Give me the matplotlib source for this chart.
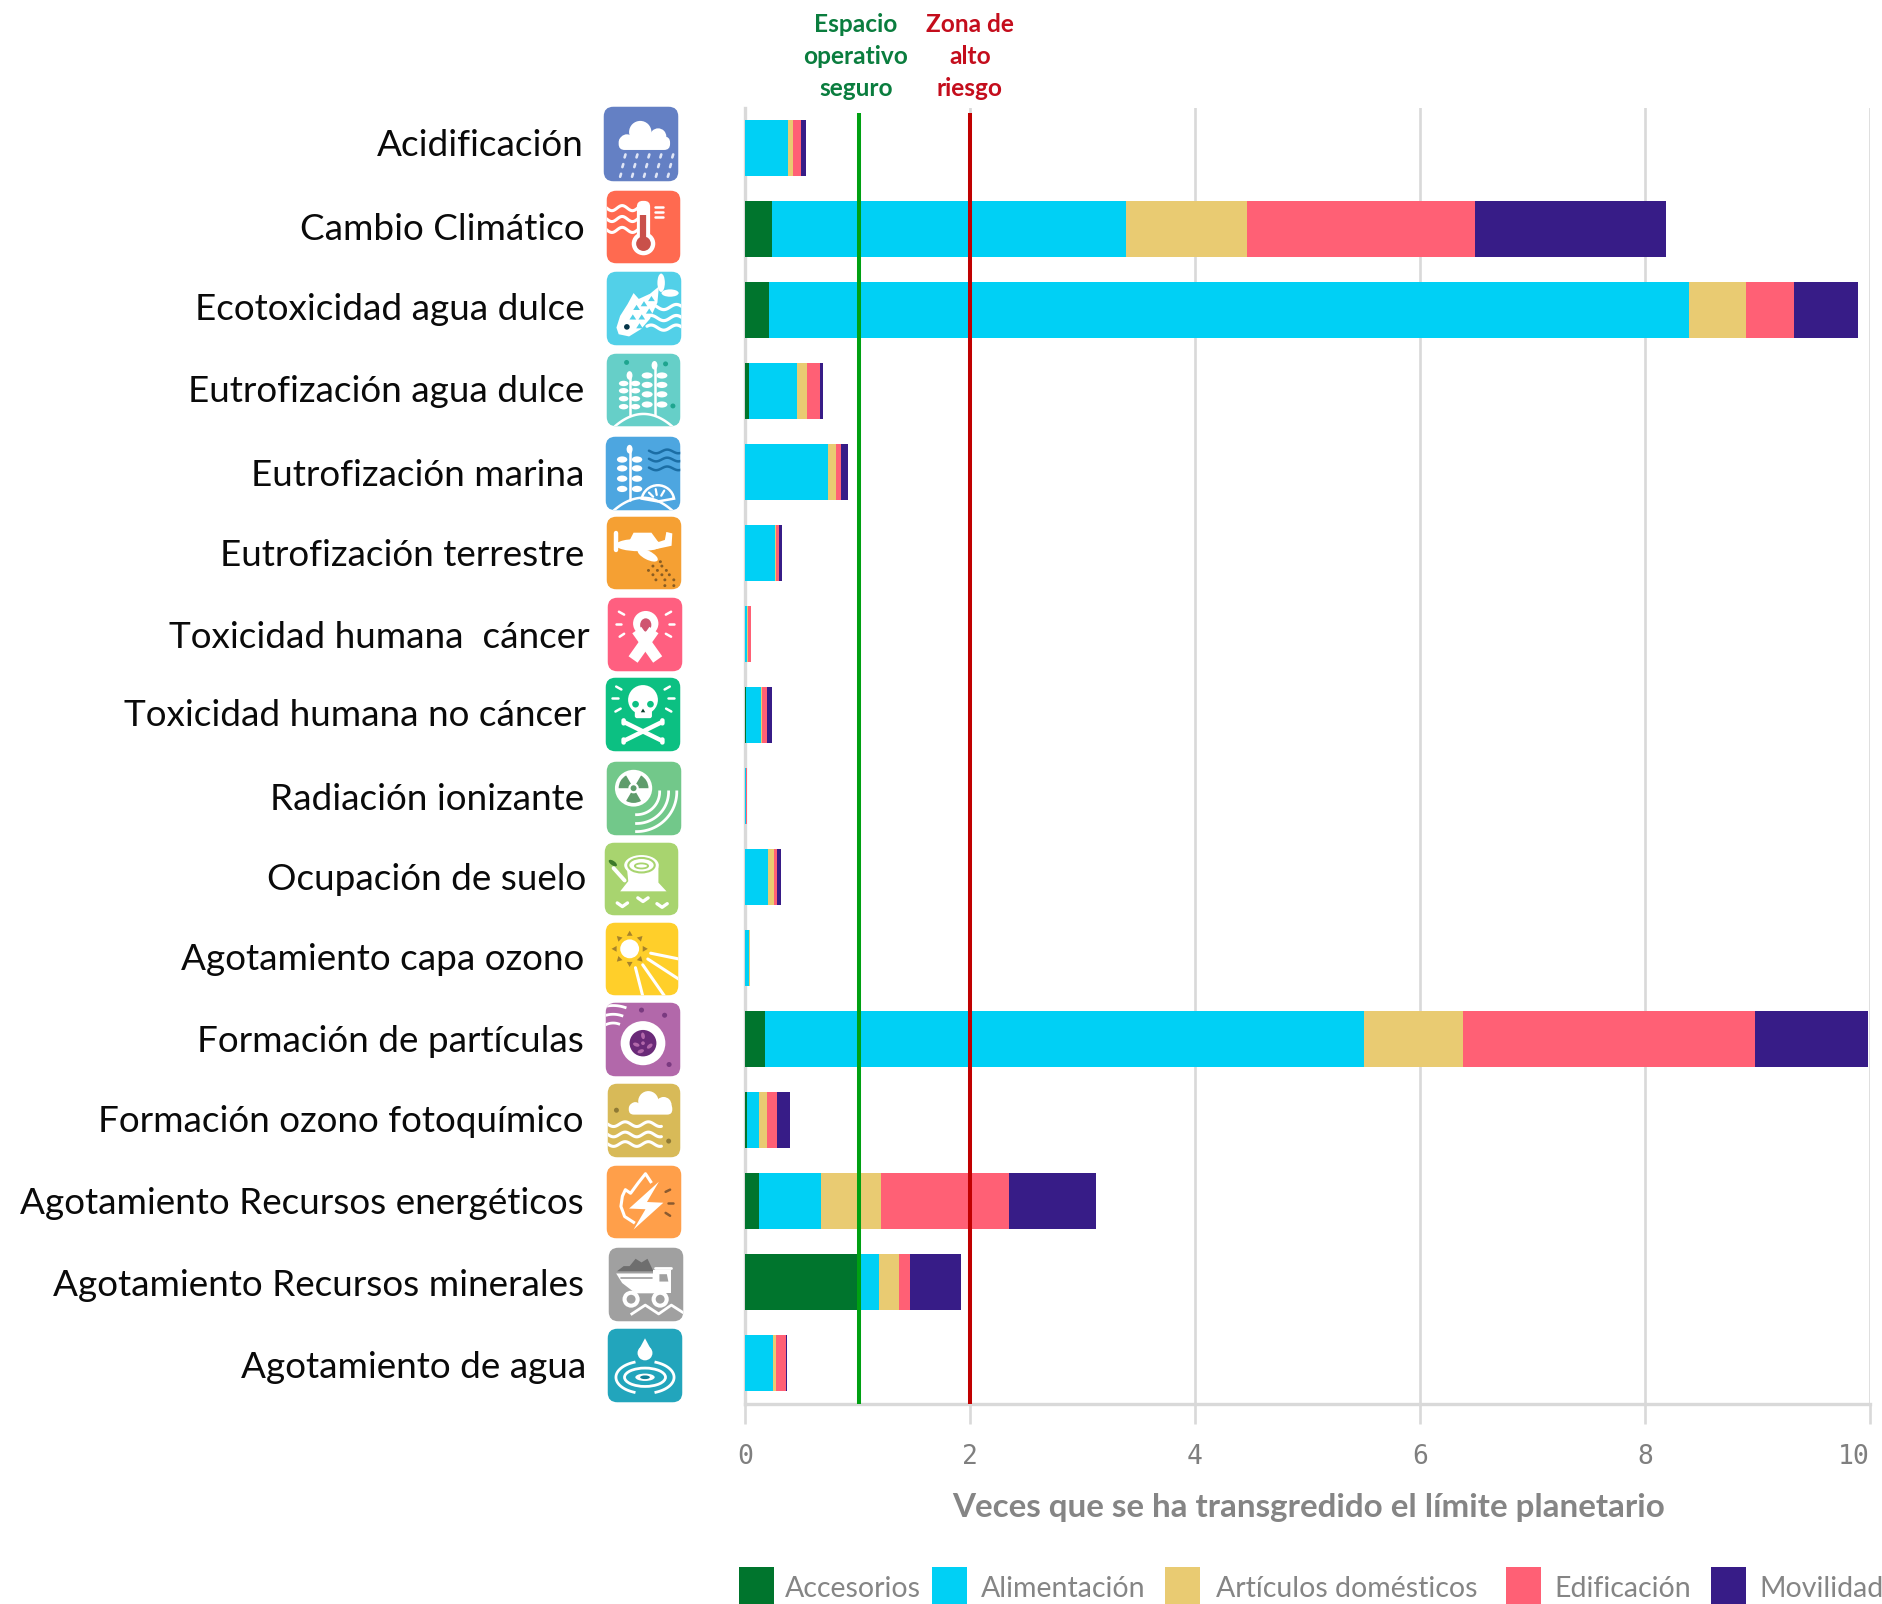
import numpy as np
import matplotlib
matplotlib.use("Agg")
import matplotlib.pyplot as plt
from matplotlib.patches import Rectangle, FancyBboxPatch, Circle, Ellipse, Polygon, Wedge

categories = ["Acidificación", "Cambio Climático", "Ecotoxicidad agua dulce", "Eutrofización agua dulce",
              "Eutrofización marina", "Eutrofización terrestre", "Toxicidad humana  cáncer",
              "Toxicidad humana no cáncer", "Radiación ionizante", "Ocupación de suelo",
              "Agotamiento capa ozono", "Formación de partículas", "Formación ozono fotoquímico",
              "Agotamiento Recursos energéticos", "Agotamiento Recursos minerales", "Agotamiento de agua"]
accesorios =   [0.002, 0.243, 0.210, 0.035, 0.002, 0.002, 0.002, 0.012, 0.002, 0.002, 0.002, 0.178, 0.020, 0.122, 1.010, 0.002]
alimentacion = [0.378, 3.147, 8.180, 0.425, 0.733, 0.263, 0.020, 0.133, 0.004, 0.203, 0.038, 5.322, 0.105, 0.552, 0.180, 0.244]
articulos =    [0.050, 1.075, 0.510, 0.090, 0.075, 0.015, 0.005, 0.010, 0.003, 0.053, 0.001, 0.880, 0.068, 0.534, 0.175, 0.033]
edificacion =  [0.065, 2.025, 0.420, 0.115, 0.040, 0.020, 0.022, 0.045, 0.005, 0.030, 0.002, 2.600, 0.092, 1.136, 0.098, 0.089]
movilidad =    [0.045, 1.700, 0.570, 0.030, 0.065, 0.030, 0.008, 0.037, 0.004, 0.030, 0.002, 1.000, 0.115, 0.776, 0.457, 0.006]
series_names = ["Accesorios", "Alimentación", "Artículos domésticos", "Edificación", "Movilidad"]
series_values = [accesorios, alimentacion, articulos, edificacion, movilidad]
series_colors = ["#00752d", "#00d0f5", "#e9cb72", "#ff6075", "#371c87"]
x_ticks = [0, 2, 4, 6, 8, 10]
limit_safe = 1.01
limit_high = 2.0

# ---------- layout ----------
W, H = 1883, 1604
plt.rcParams["font.family"] = ["Lato", "DejaVu Sans"]
fig = plt.figure(figsize=(W / 100, H / 100), dpi=100, facecolor="white")
def px_rect(x0, y0, x1, y1):
    return [x0 / W, 1 - y1 / H, (x1 - x0) / W, (y1 - y0) / H]

GRID = "#d9d9d9"
ax = fig.add_axes(px_rect(745, 107.5, 1870, 1403.5))
y = np.arange(len(categories))
left = np.zeros(len(categories))
for vals, name, col in zip(series_values, series_names, series_colors):
    ax.barh(y, vals, left=left, height=0.70, color=col, label=name, zorder=3, linewidth=0)
    left += np.array(vals)
ax.set_xlim(0, 10)
ax.set_ylim(len(categories) - 0.5, -0.5)
ax.set_yticks([])
ax.set_xticks(x_ticks)
ax.set_xticklabels([str(t) for t in x_ticks], family="DejaVu Sans Mono", fontsize=19, color="#7f7f7f")
ax.get_xticklabels()[-1].set_ha("right")
ax.tick_params(axis="x", length=14.5, width=1.9, color=GRID, pad=15)
ax.grid(axis="x", color=GRID, linewidth=1.9, zorder=0)
ax.set_axisbelow(True)
for s in ["top", "right"]:
    ax.spines[s].set_visible(False)
for s in ["left", "bottom"]:
    ax.spines[s].set_color(GRID)
    ax.spines[s].set_linewidth(2.4)
    ax.spines[s].set_zorder(1)
ax.vlines(limit_safe, -0.43, len(categories) - 0.5, color="#00a012", linewidth=2.9, zorder=4)
ax.vlines(limit_high, -0.43, len(categories) - 0.5, color="#c00000", linewidth=2.9, zorder=4)

ov = fig.add_axes([0, 0, 1, 1], zorder=5)
ov.set_xlim(0, W); ov.set_ylim(H, 0); ov.axis("off"); ov.patch.set_alpha(0)

# category labels
label_right = [584, 585, 585, 584, 584, 584, 590, 586, 584, 586, 584, 584, 584, 584, 584, 586]
label_y = [146, 229, 310, 392, 476, 555, 637, 716, 800, 880, 960, 1041, 1122, 1204, 1286, 1367]
for t, xr, yc in zip(categories, label_right, label_y):
    ov.text(xr, yc, t, ha="right", va="center", fontsize=26.6, color="#0a0a0a")

# header text
for cx, lines, col in [(856, ["Espacio", "operativo", "seguro"], "#0a7d3e"), (970, ["Zona de", "alto", "riesgo"], "#c40d1c")]:
    for yy, ln in zip([25, 57, 89], lines):
        ov.text(cx, yy, ln, ha="center", va="center", fontsize=17.6, fontweight="bold", color=col)

ov.text(1309, 1507, "Veces que se ha transgredido el límite planetario", ha="center", va="center",
        fontsize=23.9, fontweight="bold", color="#858585")

# legend
leg_sw = [739, 932, 1165, 1506, 1711]
leg_tx = [785, 981, 1216, 1554, 1759]
for sx, tx, name, col in zip(leg_sw, leg_tx, series_names, series_colors):
    ov.add_patch(Rectangle((sx, 1567), 35, 40, color=col, linewidth=0))
    ov.text(tx, 1589, name, ha="left", va="center", fontsize=20.5, color="#858585", clip_on=True)

# ---------- icons (decorative pictograms) ----------
W_ = "white"
def icon(x0, y0, x1, y1, color):
    a = fig.add_axes(px_rect(x0, y0, x1, y1), zorder=6)
    a.set_xlim(-1, 101); a.set_ylim(101, -1); a.axis("off")
    bg = FancyBboxPatch((0, 0), 100, 100, boxstyle="round,pad=0,rounding_size=13", fc=color, ec="none")
    a.add_patch(bg)
    a._bg = bg
    return a
def circ(a, x, y, r, c=W_, **k): a.add_patch(Circle((x, y), r, fc=c, ec="none", **k))
def ell(a, x, y, w, h, c=W_, ang=0): a.add_patch(Ellipse((x, y), w, h, angle=ang, fc=c, ec="none"))
def ring(a, x, y, w, h, c=W_, lw=1.5, ang=0): a.add_patch(Ellipse((x, y), w, h, angle=ang, fc="none", ec=c, lw=lw))
def line(a, xs, ys, c=W_, lw=2.0, cap="round"): a.plot(xs, ys, color=c, lw=lw, solid_capstyle=cap)
def poly(a, pts, c=W_): a.add_patch(Polygon(pts, closed=True, fc=c, ec="none"))
def wave(a, x0, x1, yc, c=W_, amp=3.2, per=26, lw=2.0):
    xx = np.linspace(x0, x1, 80)
    a.plot(xx, yc + amp * np.sin(2 * np.pi * xx / per), color=c, lw=lw, solid_capstyle="round")
def rrect(a, x0, y0, x1, y1, r, c=W_):
    a.add_patch(FancyBboxPatch((x0, y0), x1 - x0, y1 - y0, boxstyle=f"round,pad=0,rounding_size={r}", fc=c, ec="none"))
def plant(a, x, ytop, ybot, rows, dx, w, h):
    line(a, [x, x], [ytop, ybot], lw=1.8)
    ell(a, x, ytop, 8, 12)
    for r in rows:
        ell(a, x - dx, r, w, h); ell(a, x + dx, r, w, h)
def hill(a, c=W_):
    xx = np.linspace(10, 90, 60)
    a.plot(xx, 101 - 18 * (1 - ((xx - 50) / 40) ** 2), color=c, lw=1.8)
def finish(a):
    for art in list(a.patches) + list(a.lines):
        if art is not a._bg:
            art.set_clip_path(a._bg)

# 1 acidificacion
a = icon(603, 106, 679, 182, "#6480c4")
rrect(a, 20, 40, 89, 58, 8); circ(a, 49, 34, 15); circ(a, 73, 40, 11); circ(a, 31, 47, 10)
for row, yy in enumerate([66, 79, 92]):
    for i in range(5):
        xs = 28 + i * 16 - row * 3
        line(a, [xs, xs + 1.2], [yy + 2, yy - 2], c="#dfe5f5", lw=1.9)
finish(a)
# 2 cambio climatico
a = icon(606, 190, 681, 264, "#ff6a50")
for yy in [24, 39, 54]:
    wave(a, -2, 44, yy, per=28, amp=3.5, lw=2.2)
rrect(a, 41, 14, 59, 68, 8); circ(a, 50, 73, 16)
line(a, [50, 50], [33, 70], c="#c9504a", lw=4.5, cap="butt"); circ(a, 50, 73, 10, c="#c9504a")
for yy in [22, 29, 36]:
    line(a, [66, 77], [yy, yy], lw=1.8)
finish(a)
# 3 ecotoxicidad
a = icon(606, 271, 682, 346, "#52d0e8")
for yy, x0 in [(48, 62), (63, 60), (76, 54)]:
    wave(a, x0, 102, yy, per=34, amp=3.5, lw=2.3)
poly(a, [(13, 76), (18, 60), (28, 44), (36, 29), (43, 37), (58, 30), (70, 20), (68, 42), (58, 64), (46, 78), (30, 88), (16, 85)])
ell(a, 73, 15, 10, 25); ell(a, 85, 29, 23, 10)
circ(a, 27, 75, 3.8, c="#06364a")
for tx, ty in [(40, 45), (50, 40), (60, 33), (35, 58), (47, 58), (57, 50), (44, 70)]:
    poly(a, [(tx, ty), (tx - 4.5, ty + 7), (tx + 4.5, ty + 7)], c="#52d0e8")
finish(a)
# 4 eutro agua dulce
a = icon(606, 353, 681, 427, "#66cfc8")
hill(a); plant(a, 31, 30, 84, [41, 51, 62, 73], 8, 13, 7.5); plant(a, 65, 16, 84, [30, 43, 56, 70], 10, 15, 8.5)
for p in [(27, 12), (80, 14), (90, 72)]:
    circ(a, *p, 3.4, c="#1ea58f")
finish(a)
# 5 eutro marina
a = icon(605, 436, 681, 511, "#4da6e0")
hill(a); plant(a, 32, 17, 86, [31, 43, 57, 71], 10, 14, 8.5)
for yy in [20, 31, 43]:
    wave(a, 58, 101, yy, c="#1b6ea5", per=30, amp=2.5, lw=1.8)
a.add_patch(Wedge((70, 88), 22, 190, 350, fc="#4da6e0", ec=W_, lw=1.8))
for ang in [225, 260, 300]:
    line(a, [70 + 9 * np.cos(np.radians(ang)), 70 + 17 * np.cos(np.radians(ang))],
         [88 + 9 * np.sin(np.radians(ang)), 88 + 17 * np.sin(np.radians(ang))], lw=1.6)
finish(a)
# 6 eutro terrestre
a = icon(606, 516, 682, 590, "#f5a033")
line(a, [12, 12], [22, 46], lw=3.2)
ell(a, 43, 39, 62, 17)
poly(a, [(30, 34), (36, 22), (60, 22), (70, 36)])
poly(a, [(60, 38), (78, 32), (80, 21), (88, 23), (87, 40), (60, 46)])
ell(a, 55, 53, 30, 12, ang=28)
for yy, xs in [(62, [72]), (68, [62, 74]), (74, [56, 68, 80]), (80, [62, 74, 84]), (87, [66, 78, 90]), (95, [78, 90])]:
    for xx in xs:
        circ(a, xx, yy, 2.0, c="#8a5d22")
finish(a)
# 7 toxicidad cancer
a = icon(607, 597, 683, 672, "#ff5f80")
line(a, [62, 34], [44, 84], lw=8, cap="butt"); line(a, [39, 67], [44, 84], lw=8, cap="butt")
circ(a, 51, 35, 17); ell(a, 51, 37, 15, 18, c="#cf5570")
for p, q in [((15, 19), (22, 23)), ((11, 36), (18, 36)), ((16, 53), (22, 49)), ((85, 19), (78, 23)), ((89, 36), (82, 36)), ((85, 53), (78, 49))]:
    line(a, [p[0], q[0]], [p[1], q[1]], lw=1.8)
finish(a)
# 8 toxicidad no cancer
a = icon(605, 677, 681, 752, "#0cc082")
circ(a, 50, 30, 20); rrect(a, 39, 36, 62, 55, 3)
circ(a, 40, 36, 4.5, c="#0cc082"); circ(a, 60, 36, 4.5, c="#0cc082")
poly(a, [(50, 42), (47, 47), (53, 47)], c="#0a3d2a")
for p, q in [((24, 60), (76, 86)), ((76, 60), (24, 86))]:
    line(a, [p[0], q[0]], [p[1], q[1]], lw=3.2)
    for e in (p, q):
        circ(a, e[0], e[1] - 2, 3.0); circ(a, e[0], e[1] + 2, 3.0)
for p, q in [((14, 12), (21, 16)), ((9, 28), (16, 28)), ((13, 46), (20, 42)), ((86, 12), (79, 16)), ((91, 28), (84, 28)), ((88, 46), (81, 42))]:
    line(a, [p[0], q[0]], [p[1], q[1]], lw=1.8)
finish(a)
# 9 radiacion
a = icon(606, 761, 682, 836, "#72c88a")
circ(a, 36, 36, 25)
for t1, t2 in [(60, 120), (180, 240), (300, 360)]:
    a.add_patch(Wedge((36, 36), 20, t1, t2, width=13, fc="#5f9c6c", ec="none"))
circ(a, 36, 36, 4, c="#5f9c6c")
for r in [31, 43, 54]:
    th = np.radians(np.linspace(0, 90, 40))
    a.plot(40 + r * np.cos(th), 41 + r * np.sin(th), color=W_, lw=2.0)
finish(a)
# 10 ocupacion de suelo
a = icon(604, 842, 679, 916, "#a8d46f")
poly(a, [(30, 33), (73, 33), (73, 55), (84, 67), (21, 67), (32, 53)])
ell(a, 50, 31, 47, 28)
ring(a, 50, 31, 36, 20, c="#a8d46f", lw=1.5); ring(a, 50, 32, 18, 7, c="#a8d46f", lw=1.3)
line(a, [12, 27], [35, 52], lw=2.8)
ell(a, 11, 28, 13, 6, c="#3c7a2a", ang=35)
for cx, cy in [(24, 85), (52, 78), (78, 86)]:
    line(a, [cx - 7, cx, cx + 7], [cy - 2, cy + 3, cy - 2], lw=2.4)
finish(a)
# 11 agotamiento ozono
a = icon(605, 922, 679, 996, "#ffcf2a")
circ(a, 33, 36, 13)
for ang in range(0, 360, 45):
    t = np.radians(ang); n = t + np.pi / 2
    tip = (33 + 25 * np.cos(t), 36 + 25 * np.sin(t))
    b = (33 + 18 * np.cos(t), 36 + 18 * np.sin(t))
    poly(a, [tip, (b[0] + 4 * np.cos(n), b[1] + 4 * np.sin(n)), (b[0] - 4 * np.cos(n), b[1] - 4 * np.sin(n))], c="#a5822b")
for p, q in [((62, 42), (101, 50)), ((58, 50), (101, 78)), ((51, 58), (81, 101)), ((41, 62), (51, 101))]:
    line(a, [p[0], q[0]], [p[1], q[1]], lw=2.2)
finish(a)
# 12 particulas
a = icon(605, 1002, 681, 1077, "#b268aa")
circ(a, 50, 55, 30); circ(a, 50, 55, 18, c="#6a2a78")
for dx, dy, an in [(0, -10, 80), (-9, 2, 20), (9, 4, 140), (-3, 11, 160), (0, 0, 0)]:
    ell(a, 50 + dx, 55 + dy, 9 if (dx or dy) else 5, 5, c="#b268aa", ang=an)
for r in [24, 38, 52]:
    th = np.radians(np.linspace(195, 290, 30))
    a.plot(10 + r * np.cos(th) * 0.9, 48 + r * np.sin(th) * 0.85, color=W_, lw=2.0)
for p in [(48, 10), (79, 17), (85, 84)]:
    circ(a, *p, 3.4, c="#7a3a80")
finish(a)
# 13 ozono fotoquimico
a = icon(607, 1083, 681, 1158, "#d8ba58")
rrect(a, 29, 27, 89, 42, 7); circ(a, 56, 24, 14); circ(a, 77, 29, 11); circ(a, 38, 33, 8)
for yy in [55, 69, 82]:
    wave(a, -2, 74, yy, per=32, lw=2.2)
circ(a, 12, 36, 3.4, c="#8f7a35"); circ(a, 84, 78, 3.4, c="#8f7a35")
finish(a)
# 14 energeticos
a = icon(606, 1165, 682, 1239, "#ff9f4a")
a.plot([36, 24, 19, 21, 25, 32, 42, 52, 59], [78, 70, 56, 42, 33, 38, 24, 11, 22], color=W_, lw=2.2)
poly(a, [(70, 22), (30, 59), (52, 60), (36, 88), (76, 51), (54, 50)])
for p, q in [((79, 36), (85, 33)), ((82, 51), (89, 51)), ((79, 65), (85, 69))]:
    line(a, [p[0], q[0]], [p[1], q[1]], c="#8a5a30", lw=1.8)
finish(a)
# 15 minerales
a = icon(608, 1247, 684, 1322, "#a0a0a0")
poly(a, [(11, 32), (20, 25), (28, 25), (36, 15), (44, 20), (52, 15), (60, 32)], c="#6e6e6e")
poly(a, [(10, 35), (62, 35), (62, 62), (36, 62), (18, 48)])
line(a, [16, 58], [41, 41], c="#a0a0a0", lw=1.2)
poly(a, [(60, 30), (84, 30), (84, 62), (60, 62)])
line(a, [62, 84], [28, 28], lw=2)
poly(a, [(68, 36), (78, 36), (80, 46), (68, 46)], c="#a0a0a0")
for cx in [30, 69]:
    circ(a, cx, 70, 11.5); circ(a, cx, 70, 6, c="#a0a0a0")
a.plot([31, 49, 67, 84, 101], [90, 78, 90, 78, 89], color=W_, lw=2.0)
finish(a)
# 16 agua
a = icon(607, 1328, 683, 1403, "#22a5bc")
circ(a, 50, 33, 10); poly(a, [(41, 30), (50, 13), (59, 30)])
ring(a, 50, 66, 55, 25, lw=2.0); ell(a, 50, 66, 26, 10); ell(a, 50, 66, 13, 5, c="#0f7f96")
for t1, t2 in [(112, 248), (-68, 68)]:
    th = np.radians(np.linspace(t1, t2, 40))
    a.plot(50 + 39 * np.cos(th), 66 + 22 * np.sin(th), color=W_, lw=2.0)
finish(a)

fig.savefig("out.png", dpi=100, facecolor="white")
